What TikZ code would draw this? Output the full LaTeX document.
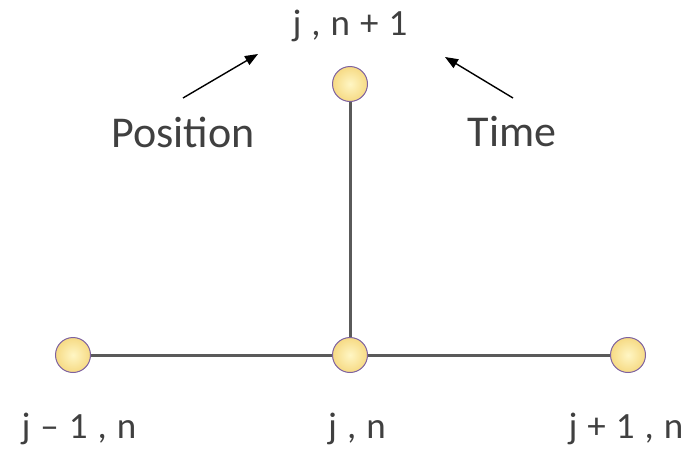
\documentclass[tikz,border=0pt]{standalone}
\usepackage{fontspec}
\setmainfont{Carlito}
\usetikzlibrary{arrows.meta}
\pgfdeclarelayer{background}
\pgfsetlayers{background,main}
\definecolor{txt}{HTML}{404040}
\definecolor{edge}{HTML}{5A5A5A}
\definecolor{ringc}{HTML}{7E62A0}
\definecolor{ballin}{HTML}{FFF6C4}
\definecolor{ballout}{HTML}{F6DA84}
\newcommand{\gap}{\hspace{10pt}}
\tikzset{
  gridpt/.style={circle, minimum size=35pt, inner sep=0pt, draw=ringc, line width=1pt,
    inner color=ballin, outer color=ballout},
  link/.style={draw=edge, line width=3pt},
  idx/.style={text=txt, font=\fontsize{37}{37}\selectfont, anchor=base, inner sep=0pt},
  word/.style={text=txt, font=\fontsize{44}{44}\selectfont, anchor=base, inner sep=0pt},
  pointer/.style={draw=black, line width=1.4pt, -{Triangle[length=13pt,width=10pt]}},
}
\begin{document}
\begin{tikzpicture}[x=1pt, y=-1pt]
  \useasboundingbox (0,0) rectangle (695,455);

  % grid points of the stencil
  \node[gridpt] (top) at (350,84) {};
  \node[gridpt] (left) at (73,355) {};
  \node[gridpt] (mid) at (350,355) {};
  \node[gridpt] (right) at (628,355) {};

  % connecting lines, beneath the points
  \begin{pgfonlayer}{background}
    \draw[link] (top.center) -- (mid.center);
    \draw[link] (left.center) -- (right.center);
  \end{pgfonlayer}

  % index labels
  \node[idx] (ltop) at (350,35) {j\gap,\gap n\gap+\gap 1};
  \node[idx] (lleft) at (79,438) {j\gap–\gap 1\gap,\gap n};
  \node[idx] (lmid) at (357,438) {j\gap,\gap n};
  \node[idx] (lright) at (626,438) {j\gap+\gap 1\gap,\gap n};

  % annotations
  \node[word] (pos) at (183,147) {Position};
  \node[word] (time) at (512,146) {Time};
  \coordinate (ptail) at (183,98);
  \coordinate (phead) at (258,54);
  \coordinate (ttail) at (513,98);
  \coordinate (thead) at (445,57);
  \draw[pointer] (ptail) -- (phead);
  \draw[pointer] (ttail) -- (thead);
\end{tikzpicture}
\end{document}
